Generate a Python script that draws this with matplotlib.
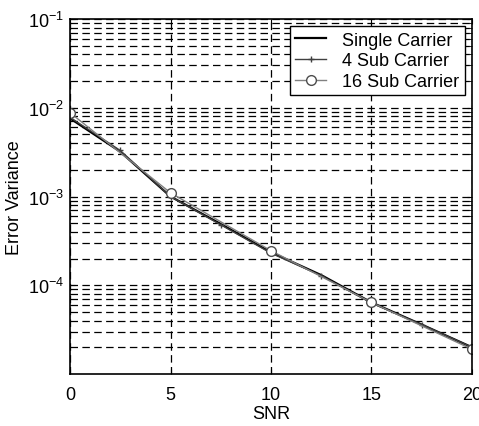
import numpy as np
import matplotlib.pyplot as plt
from matplotlib.ticker import LogLocator, NullFormatter

plt.rcParams['font.family'] = ['Liberation Sans', 'DejaVu Sans']
plt.rcParams['mathtext.fontset'] = 'custom'
plt.rcParams['mathtext.rm'] = 'Liberation Sans'

# SNR samples and error variance
snr = [0, 2.5, 5, 7.5, 10, 12.5, 15, 17.5, 20]
single = [7.6e-3, 3.2e-3, 1.0e-3, 4.9e-4, 2.35e-4, 1.3e-4, 6.4e-5, 3.6e-5, 2.0e-5]
sub4 = [7.8e-3, 3.3e-3, 1.0e-3, 4.8e-4, 2.3e-4, 1.28e-4, 6.3e-5, 3.6e-5, 2.0e-5]
snr16 = [0, 5, 10, 15, 20]
sub16 = [8.8e-3, 1.1e-3, 2.45e-4, 6.4e-5, 1.9e-5]

fig = plt.figure(figsize=(4.79, 4.27), dpi=100)
ax = fig.add_axes([70/479, 1-375/427, 402/479, 355/427])

ax.semilogy(snr, single, 'k-', lw=1.6, label='Single Carrier')
ax.semilogy(snr, sub4, color='0.25', lw=1.0, marker='+', ms=5, label='4 Sub Carrier')
ax.semilogy(snr16, sub16, color='0.5', lw=1.0, marker='o', ms=7, mfc='white', mec='0.3', label='16 Sub Carrier')

ax.set_xlim(0, 20)
ax.set_ylim(1e-5, 1e-1)
ax.set_xticks([0, 5, 10, 15, 20])
ax.yaxis.set_minor_locator(LogLocator(base=10, subs=np.arange(2, 10), numticks=10))
ax.yaxis.set_minor_formatter(NullFormatter())
ax.set_yticks([1e-4, 1e-3, 1e-2, 1e-1])
ax.set_yticklabels(['$10^{-4}$', '$10^{-3}$', '$10^{-2}$', '$10^{-1}$'])

ax.grid(True, which='major', ls=(0, (6, 3.5)), color='k', lw=0.9)
ax.grid(True, which='minor', axis='y', ls=(0, (6, 3.5)), color='k', lw=0.9)
ax.tick_params(which='both', direction='in', labelsize=13, top=True, right=True)
ax.tick_params(axis='x', pad=9)
ax.tick_params(axis='y', pad=4)
for s in ax.spines.values():
    s.set_linewidth(1.2)

ax.set_xlabel('SNR', fontsize=13, labelpad=1)
ax.set_ylabel('Error Variance', fontsize=13, labelpad=4)

leg = ax.legend(loc='upper right', fontsize=13, fancybox=False, framealpha=1,
                edgecolor='k', borderpad=0.3, handlelength=1.7, handletextpad=0.9,
                labelspacing=0.2, borderaxespad=0.4)
leg.get_frame().set_linewidth(1.0)

fig.savefig('out.png', dpi=100)
